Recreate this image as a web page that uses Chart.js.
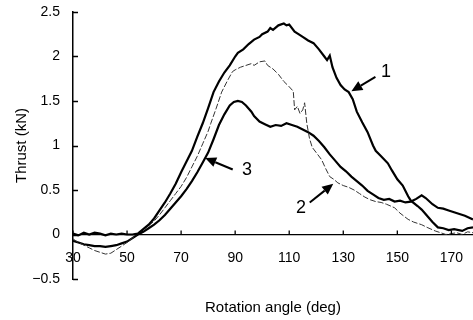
<!DOCTYPE html>
<html>
<head>
<meta charset="utf-8">
<script src="https://cdn.jsdelivr.net/npm/chart.js@4.4.1/dist/chart.umd.min.js"></script>
<style>
  html, body { margin: 0; padding: 0; background: #fff; }
  canvas { display: block; }
</style>
</head>
<body>
<canvas id="thrustChart" width="473" height="320"></canvas>
<script>
// Curve 1 (thick, highest peak)
const angles1 = [30, 32, 34, 36, 38, 40, 42, 44, 46, 48, 50, 52, 54, 56, 58, 60, 62, 64, 66, 68, 70, 72, 74, 76, 78, 80, 82, 84, 86, 88, 90, 91, 93, 95, 97, 99, 100, 102, 103, 104, 106, 108, 109, 110, 112, 113, 115, 117, 119, 121, 123, 124, 125, 126, 127.5, 129, 130.5, 132, 133.5, 135, 137, 139, 141, 142, 144, 146.5, 148, 150, 152, 154, 155, 157.5, 159, 161, 163, 165, 167, 169, 171, 174, 176, 178];
const thrust1 = [0.01, -0.01, 0.02, 0.0, 0.02, 0.01, -0.01, 0.01, 0.0, 0.01, 0.0, 0.0, 0.01, 0.06, 0.11, 0.18, 0.27, 0.36, 0.46, 0.57, 0.70, 0.82, 0.94, 1.10, 1.25, 1.42, 1.60, 1.72, 1.82, 1.90, 2.00, 2.04, 2.08, 2.14, 2.19, 2.22, 2.25, 2.28, 2.32, 2.30, 2.35, 2.37, 2.35, 2.36, 2.28, 2.26, 2.22, 2.18, 2.15, 2.08, 2.00, 1.96, 2.01, 1.88, 1.76, 1.68, 1.63, 1.60, 1.52, 1.38, 1.26, 1.15, 1.00, 0.94, 0.88, 0.80, 0.72, 0.62, 0.55, 0.43, 0.38, 0.32, 0.28, 0.21, 0.14, 0.08, 0.07, 0.05, 0.06, 0.04, 0.07, 0.08];

// Curve 2 (thin dashed)
const angles2 = [30, 32, 34, 36, 38, 40, 42, 44, 46, 48, 50, 52, 54, 56, 58, 60, 62, 64, 66, 68, 70, 72, 74, 76, 78, 80, 81, 83, 85, 87, 89, 90, 92, 94, 96, 97, 99, 101, 102, 104, 106, 108, 110, 111.5, 112, 113, 114, 115, 115.7, 116.5, 117.5, 118.5, 120, 122, 123.5, 125, 126.5, 128, 130, 132, 134, 136, 138, 140, 142, 144, 146, 149, 151, 154, 156, 159, 161, 164, 166, 168, 170, 172, 174, 176, 178];
const thrust2 = [-0.05, -0.09, -0.12, -0.15, -0.18, -0.20, -0.22, -0.21, -0.17, -0.13, -0.09, -0.04, 0.01, 0.06, 0.10, 0.15, 0.22, 0.30, 0.38, 0.46, 0.54, 0.64, 0.76, 0.88, 1.02, 1.16, 1.25, 1.42, 1.60, 1.72, 1.83, 1.85, 1.88, 1.90, 1.92, 1.90, 1.94, 1.95, 1.90, 1.86, 1.80, 1.72, 1.66, 1.61, 1.40, 1.44, 1.36, 1.40, 1.48, 1.25, 1.08, 0.98, 0.92, 0.84, 0.74, 0.65, 0.62, 0.58, 0.55, 0.53, 0.50, 0.46, 0.42, 0.39, 0.37, 0.36, 0.34, 0.30, 0.24, 0.17, 0.14, 0.11, 0.08, 0.04, 0.02, 0.0, 0.01, 0.02, 0.0, 0.03, 0.02];

// Curve 3 (thick, lowest peak)
const angles3 = [30, 32, 34, 36, 38, 40, 42, 44, 46, 48, 50, 52, 54, 56, 58, 60, 62, 64, 66, 68, 70, 72, 74, 76, 78, 80, 82, 84, 86, 88, 89.5, 91, 92.5, 94, 96, 97, 99, 101, 103, 105, 107, 109, 111, 113, 115, 117, 119, 121, 123, 125, 127, 129, 131, 133, 135, 137, 139, 141, 143, 145, 147, 149, 151, 153, 155, 157, 159, 160.5, 163, 165, 167, 169, 171, 173, 175, 178];
const thrust3 = [-0.07, -0.09, -0.11, -0.12, -0.13, -0.13, -0.14, -0.13, -0.12, -0.10, -0.08, -0.04, 0.0, 0.03, 0.07, 0.11, 0.16, 0.22, 0.29, 0.36, 0.43, 0.51, 0.60, 0.70, 0.81, 0.92, 1.07, 1.23, 1.35, 1.45, 1.49, 1.50, 1.49, 1.45, 1.38, 1.33, 1.27, 1.24, 1.21, 1.23, 1.22, 1.25, 1.23, 1.21, 1.18, 1.15, 1.11, 1.05, 0.98, 0.90, 0.83, 0.76, 0.71, 0.65, 0.60, 0.55, 0.49, 0.45, 0.41, 0.39, 0.40, 0.37, 0.38, 0.36, 0.37, 0.40, 0.44, 0.41, 0.34, 0.30, 0.29, 0.27, 0.25, 0.23, 0.21, 0.17];

const xTicks = [30, 50, 70, 90, 110, 130, 150, 170];
const curveLabels = ['1', '2', '3'];

const FONT = '"Liberation Sans", Arial, sans-serif';

function toPoints(xs, ys) {
    return xs.map((x, i) => ({ x: x, y: ys[i] }));
}

// arrows pointing at each curve, in data units
const arrows = [
    { label: curveLabels[0], tip: [133, 1.61], tail: [141.9, 1.77], text: [145.8, 1.83] },
    { label: curveLabels[1], tip: [126.3, 0.57], tail: [117.6, 0.36], text: [114.4, 0.30] },
    { label: curveLabels[2], tip: [78.9, 0.86], tail: [89.1, 0.73], text: [94.4, 0.72] }
];

// inward tick marks + arrow annotations
const extrasPlugin = {
    id: 'extras',
    afterDatasetsDraw(chart) {
        const ctx = chart.ctx;
        const xs = chart.scales.x;
        const ys = chart.scales.y;
        const y0 = ys.getPixelForValue(0);
        const left = chart.chartArea.left;

        ctx.save();
        ctx.strokeStyle = '#000';
        ctx.lineWidth = 1.3;
        ctx.beginPath();
        xs.ticks.forEach(t => {
            const px = xs.getPixelForValue(t.value);
            ctx.moveTo(px, y0);
            ctx.lineTo(px, y0 - 4);
        });
        ys.ticks.forEach(t => {
            const py = Math.round(ys.getPixelForValue(t.value)) + 0.5;
            ctx.moveTo(left, py);
            ctx.lineTo(left + 5, py);
        });
        ctx.stroke();

        arrows.forEach(a => {
            const tx = xs.getPixelForValue(a.tip[0]), ty = ys.getPixelForValue(a.tip[1]);
            const sx = xs.getPixelForValue(a.tail[0]), sy = ys.getPixelForValue(a.tail[1]);
            const ang = Math.atan2(ty - sy, tx - sx);
            const headLen = 11, headW = 5;
            const bx = tx - Math.cos(ang) * headLen, by = ty - Math.sin(ang) * headLen;
            ctx.lineWidth = 2;
            ctx.beginPath();
            ctx.moveTo(sx, sy);
            ctx.lineTo(bx, by);
            ctx.stroke();
            ctx.beginPath();
            ctx.moveTo(tx, ty);
            ctx.lineTo(bx + Math.sin(ang) * headW, by - Math.cos(ang) * headW);
            ctx.lineTo(bx - Math.sin(ang) * headW, by + Math.cos(ang) * headW);
            ctx.closePath();
            ctx.fillStyle = '#000';
            ctx.fill();

            ctx.font = '18px ' + FONT;
            ctx.textAlign = 'center';
            ctx.textBaseline = 'middle';
            ctx.fillText(a.label, xs.getPixelForValue(a.text[0]), ys.getPixelForValue(a.text[1]));
        });
        ctx.restore();
    }
};

document.addEventListener('DOMContentLoaded', function() {
    Chart.defaults.font.family = FONT;
    Chart.defaults.color = '#000';

    new Chart(document.getElementById('thrustChart'), {
        type: 'line',
        data: {
            datasets: [
                {
                    label: curveLabels[0],
                    data: toPoints(angles1, thrust1),
                    borderColor: '#000',
                    borderWidth: 2.2,
                    pointRadius: 0,
                    tension: 0
                },
                {
                    label: curveLabels[1],
                    data: toPoints(angles2, thrust2),
                    borderColor: '#333',
                    borderWidth: 1,
                    borderDash: [6, 2],
                    pointRadius: 0,
                    tension: 0
                },
                {
                    label: curveLabels[2],
                    data: toPoints(angles3, thrust3),
                    borderColor: '#000',
                    borderWidth: 2.2,
                    pointRadius: 0,
                    tension: 0
                }
            ]
        },
        options: {
            responsive: false,
            animation: false,
            layout: { padding: { left: 9, top: 12, right: 0, bottom: 0 } },
            plugins: {
                legend: { display: false },
                tooltip: { enabled: false },
                title: {
                    display: true,
                    text: 'Rotation angle (deg)',
                    position: 'bottom',
                    fullSize: false,
                    color: '#000',
                    font: { size: 15, weight: 'normal' },
                    padding: { top: 20, bottom: 3 }
                }
            },
            scales: {
                x: {
                    type: 'linear',
                    position: { y: 0 },
                    min: 30,
                    max: 178,
                    afterBuildTicks: scale => {
                        scale.ticks = xTicks.map(v => ({ value: v }));
                    },
                    ticks: { padding: 3, color: '#000', font: { size: 14 }, maxRotation: 0, autoSkip: false },
                    // invisible outward ticks just push the labels away from the line
                    grid: { display: true, drawOnChartArea: false, drawTicks: true, tickLength: 12, tickColor: 'rgba(0,0,0,0)' },
                    border: { display: true, color: '#000', width: 1.3 }
                },
                y: {
                    min: -0.5,
                    max: 2.5,
                    afterFit: scale => {
                        // keep the axis line at x = 73
                        scale.width = 64;
                    },
                    ticks: {
                        stepSize: 0.5,
                        padding: 3,
                        color: '#000',
                        font: { size: 14 },
                        callback: v => v < 0 ? '\u2212' + Math.abs(v) : String(v)
                    },
                    grid: { display: true, drawOnChartArea: false, drawTicks: true, tickLength: 10, tickColor: 'rgba(0,0,0,0)' },
                    border: { display: true, color: '#000', width: 1.5 },
                    title: {
                        display: true,
                        text: 'Thrust (kN)',
                        color: '#000',
                        font: { size: 15 },
                        padding: { top: 4, bottom: 4 }
                    }
                }
            }
        },
        plugins: [extrasPlugin]
    });
});
</script>
</body>
</html>
